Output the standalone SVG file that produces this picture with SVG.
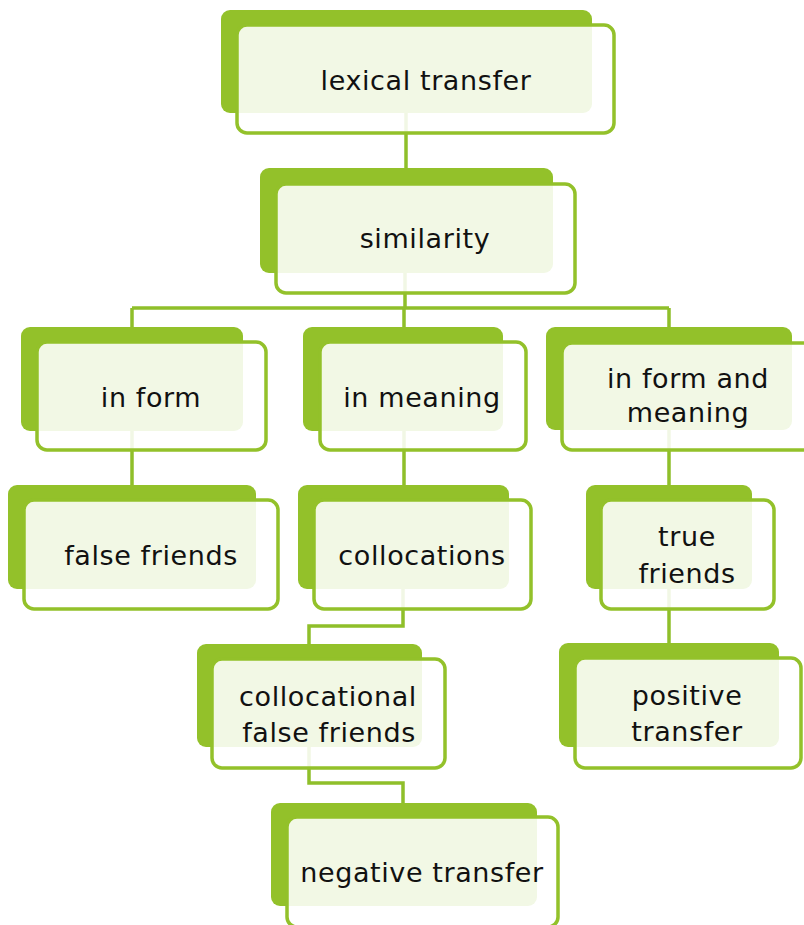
<svg xmlns="http://www.w3.org/2000/svg" width="804" height="925" viewBox="0 0 804 925">
<style>
.back{fill:#93C12A}
.front{fill:#ffffff;fill-opacity:0.88;stroke:#93C12A;stroke-width:3.5}
.conn{fill:none;stroke:#8FBF2A;stroke-width:3.5}
.lbl{font-family:"Comic Sans MS","DejaVu Sans",sans-serif;font-size:27px;letter-spacing:0.6px;fill:#111;text-anchor:middle}
</style>
<rect width="804" height="925" fill="#ffffff"/>
<g id="connectors">
<path class="conn" d="M406 100 V175"/>
<path class="conn" d="M405 265 V308 M132 308 H669 M132 308 V335 M404 308 V335 M669 308 V335"/>
<path class="conn" d="M132 425 V492 M404 425 V492 M669 425 V492"/>
<path class="conn" d="M403 580 V626 H309 V650"/>
<path class="conn" d="M309 740 V783 H403 V810"/>
<path class="conn" d="M669 580 V643"/>
</g>
<g id="n-lexical">
<rect class="back" x="221" y="10" width="371" height="103" rx="9"/>
<rect class="front" x="237" y="25" width="377" height="108" rx="10"/>
<text class="lbl" x="426" y="90">lexical transfer</text>
</g>
<g id="n-similarity">
<rect class="back" x="260" y="168" width="293" height="105" rx="9"/>
<rect class="front" x="276" y="184" width="299" height="109" rx="10"/>
<text class="lbl" x="425" y="248">similarity</text>
</g>
<g id="n-inform">
<rect class="back" x="21" y="327" width="222" height="104" rx="9"/>
<rect class="front" x="37" y="342" width="229" height="108" rx="10"/>
<text class="lbl" x="151" y="407">in form</text>
</g>
<g id="n-inmeaning">
<rect class="back" x="303" y="327" width="200" height="104" rx="9"/>
<rect class="front" x="320" y="342" width="206" height="108" rx="10"/>
<text class="lbl" x="422" y="407">in meaning</text>
</g>
<g id="n-informmeaning">
<rect class="back" x="546" y="327" width="246" height="103" rx="9"/>
<rect class="front" x="562" y="343" width="252" height="107" rx="10"/>
<text class="lbl" x="688" y="388">in form and</text>
<text class="lbl" x="688" y="422">meaning</text>
</g>
<g id="n-falsefriends">
<rect class="back" x="8" y="485" width="248" height="104" rx="9"/>
<rect class="front" x="24" y="500" width="254" height="109" rx="10"/>
<text class="lbl" x="151" y="565">false friends</text>
</g>
<g id="n-collocations">
<rect class="back" x="298" y="485" width="211" height="104" rx="9"/>
<rect class="front" x="314" y="500" width="217" height="109" rx="10"/>
<text class="lbl" x="422" y="565">collocations</text>
</g>
<g id="n-truefriends">
<rect class="back" x="586" y="485" width="166" height="104" rx="9"/>
<rect class="front" x="601" y="500" width="173" height="109" rx="10"/>
<text class="lbl" x="687" y="546">true</text>
<text class="lbl" x="687" y="583">friends</text>
</g>
<g id="n-collocfalse">
<rect class="back" x="197" y="644" width="225" height="103" rx="9"/>
<rect class="front" x="212" y="659" width="233" height="109" rx="10"/>
<text class="lbl" x="328" y="706">collocational</text>
<text class="lbl" x="329" y="742">false friends</text>
</g>
<g id="n-positive">
<rect class="back" x="559" y="643" width="220" height="104" rx="9"/>
<rect class="front" x="575" y="658" width="226" height="110" rx="10"/>
<text class="lbl" x="687" y="705">positive</text>
<text class="lbl" x="687" y="741">transfer</text>
</g>
<g id="n-negative">
<rect class="back" x="271" y="803" width="266" height="103" rx="9"/>
<rect class="front" x="287" y="817" width="271" height="110" rx="10"/>
<text class="lbl" x="422" y="882">negative transfer</text>
</g>
</svg>
